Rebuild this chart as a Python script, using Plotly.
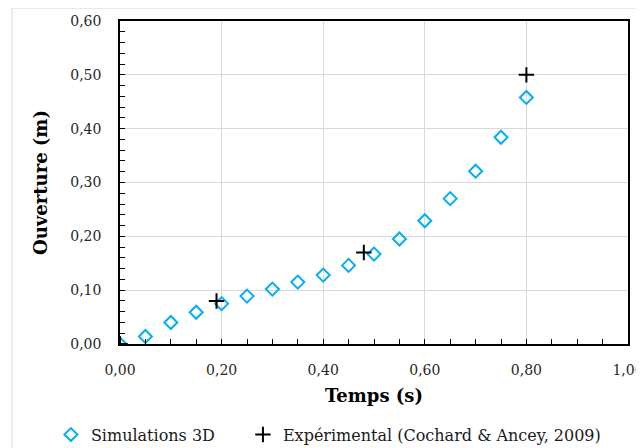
import plotly.graph_objects as go

sim_t = [0.00, 0.05, 0.10, 0.15, 0.20, 0.25, 0.30, 0.35, 0.40, 0.45, 0.50, 0.55, 0.60, 0.65, 0.70, 0.75, 0.80]
sim_open = [0.000, 0.014, 0.040, 0.059, 0.075, 0.089, 0.102, 0.115, 0.128, 0.146, 0.167, 0.195, 0.229, 0.270, 0.321, 0.384, 0.458]
exp_t = [0.00, 0.19, 0.48, 0.80]
exp_open = [0.000, 0.080, 0.170, 0.500]

FONT = "DejaVu Serif"

fig = go.Figure()
fig.add_trace(go.Scatter(
    x=sim_t, y=sim_open, mode="markers", name="Simulations 3D", legend="legend",
    marker=dict(symbol="diamond-open", size=10, color="#00B0F0", line=dict(width=2, color="#00B0F0")),
))
fig.add_trace(go.Scatter(
    x=exp_t, y=exp_open, mode="markers", name="Expérimental (Cochard & Ancey, 2009)", legend="legend2",
    marker=dict(symbol="cross-thin-open", size=11, color="black", line=dict(width=2, color="black")),
))

axis_common = dict(
    showline=True, linecolor="black", linewidth=1.5, mirror=True,
    showgrid=True, gridcolor="#D9D9D9", gridwidth=1,
    zeroline=False, ticks="inside", ticklen=5, tickcolor="black", tickwidth=1,
    tickfont=dict(family=FONT, size=14, color="#262626"),
    automargin=False,
)

fig.update_xaxes(
    range=[0, 1.0], dtick=0.2, tick0=0, tickformat=".2f",
    minor=dict(dtick=0.05, ticks="inside", ticklen=5, tickcolor="black", showgrid=False),
    ticklabelstandoff=12,
    title=dict(text="<b>Temps (s)</b>", font=dict(family=FONT, size=18, color="black"), standoff=13),
    **axis_common,
)
fig.update_yaxes(
    range=[0, 0.6], dtick=0.1, tick0=0, tickformat=".2f",
    minor=dict(dtick=0.02, ticks="inside", ticklen=5, tickcolor="black", showgrid=False),
    ticklabelstandoff=14,
    title=dict(text="<b>Ouverture (m)</b>", font=dict(family=FONT, size=18, color="black"), standoff=18),
    **axis_common,
)

legend_common = dict(orientation="h", xanchor="left", y=-0.228, yanchor="top",
                     font=dict(family=FONT, size=16, color="#1a1a1a"), itemwidth=30,
                     bgcolor="rgba(0,0,0,0)")

fig.update_layout(
    width=636, height=440,
    margin=dict(l=112, r=16, t=13, b=104, autoexpand=False),
    paper_bgcolor="white", plot_bgcolor="white",
    separators=", ",
    showlegend=True,
    legend=dict(x=-0.136, **legend_common),
    legend2=dict(x=0.242, **legend_common),
    shapes=[dict(type="rect", xref="paper", yref="paper", x0=-0.2126, x1=1.05, y0=-0.40, y1=1.04,
                 line=dict(color="#D9D9D9", width=1), layer="below")],
)

fig.write_html("out.html")
